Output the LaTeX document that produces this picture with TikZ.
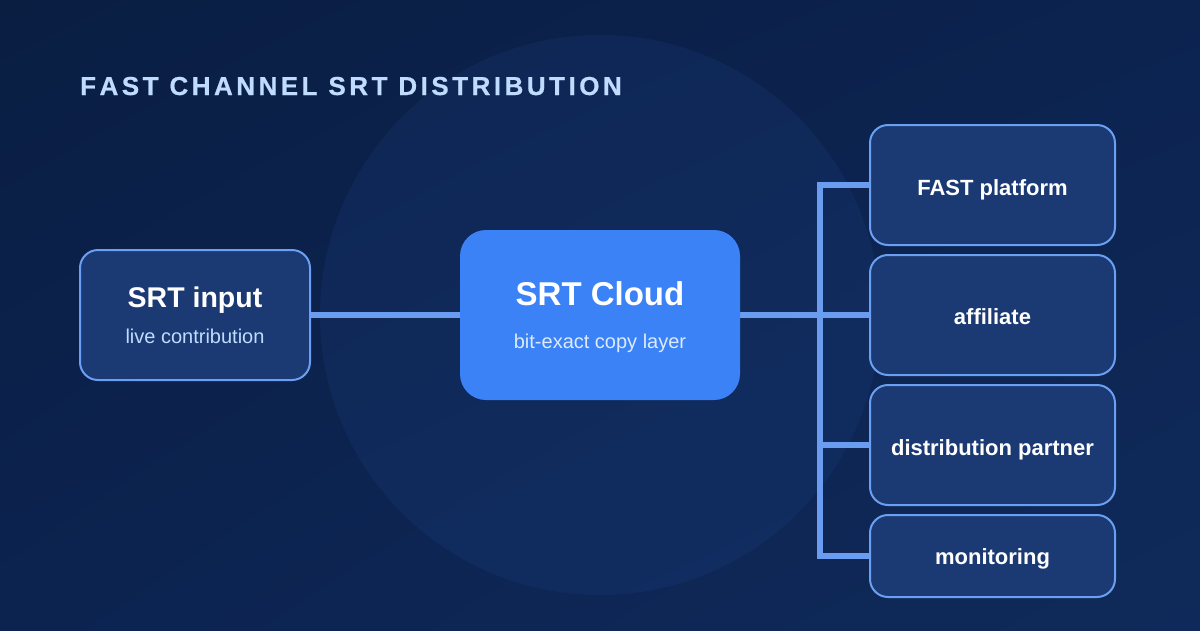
\documentclass[tikz,border=0pt]{standalone}
\usepackage{fontspec}
\usetikzlibrary{shadings}
\setmainfont{Liberation Sans}
\definecolor{bgA}{HTML}{0A1E42}
\definecolor{bgB}{HTML}{0C2350}
\definecolor{bgC}{HTML}{0F2A5A}
\definecolor{boxfill}{HTML}{1B3A74}
\definecolor{boxline}{HTML}{6A9FF2}
\definecolor{wire}{HTML}{6A9CF0}
\definecolor{cloudfill}{HTML}{3B82F6}
\definecolor{titlecol}{HTML}{BFDBFE}
\definecolor{subcol}{HTML}{BFDBFE}
\definecolor{cloudsub}{HTML}{DBEAFE}
\def\spacedword#1{\spacedstep#1\relax}
\def\spacedstep#1{\ifx\relax#1\else#1\kern3.5pt\expandafter\spacedstep\fi}
\def\wgap{\hspace{7.4pt}}
\pgfdeclarelayer{bglayer}
\pgfdeclarelayer{wirelayer}
\pgfsetlayers{bglayer,wirelayer,main}
\tikzset{
  darkbox/.style={draw=boxline, line width=2pt, fill=boxfill, rounded corners=18pt,
    minimum width=230pt, minimum height=130pt, inner sep=0pt, outer sep=0pt},
  outbox/.style={darkbox, minimum width=245pt, minimum height=120pt},
  cloudbox/.style={fill=cloudfill, rounded corners=26pt, minimum width=280pt,
    minimum height=170pt, inner sep=0pt, outer sep=0pt},
  wireline/.style={draw=wire, line width=6pt, line cap=butt, line join=miter},
  lbl/.style={anchor=base, text=white, font=\bfseries\fontsize{22}{26}\selectfont, inner sep=0pt},
  sublbl/.style={anchor=base, font=\fontsize{20}{24}\selectfont, inner sep=0pt},
}
\begin{document}
\begin{tikzpicture}[x=1pt, y=-1pt]
\begin{pgfonlayer}{bglayer}
  \shade[upper left=bgA, upper right=bgB, lower left=bgB, lower right=bgC] (0,0) rectangle (1200,630);
  \fill[fill=cloudfill, fill opacity=0.07] (600,315) circle (280);
\end{pgfonlayer}
\useasboundingbox (0,0) rectangle (1200,630);

\node[anchor=base west, inner sep=0pt, text=titlecol, font=\bfseries\fontsize{26}{30}\selectfont\addfontfeature{FakeBold=0.6}] (title) at (80,95)
  {\spacedword{FAST}\wgap\spacedword{CHANNEL}\wgap\spacedword{SRT}\wgap\spacedword{DISTRIBUTION}};

\node[darkbox] (in) at (195,315) {};
\node[lbl, font=\bfseries\fontsize{28.5}{32}\selectfont] (inT) at (195,307) {SRT input};
\node[sublbl, text=subcol] (inS) at (195,343) {live contribution};

\node[cloudbox] (cloud) at (600,315) {};
\node[lbl, font=\bfseries\fontsize{33}{38}\selectfont] (cloudT) at (600,305) {SRT Cloud};
\node[sublbl, text=cloudsub] (cloudS) at (600,348) {bit-exact copy layer};

\node[outbox] (fast) at (992.5,185) {};
\node[lbl] (fastT) at (992.5,195) {FAST platform};
\node[outbox] (aff) at (992.5,315) {};
\node[lbl] (affT) at (992.5,324) {affiliate};
\node[outbox] (dist) at (992.5,445) {};
\node[lbl] (distT) at (992.5,455) {distribution partner};
\node[outbox, minimum height=82pt] (mon) at (992.5,556) {};
\node[lbl] (monT) at (992.5,564) {monitoring};

\coordinate (bus) at (820,315);
\begin{pgfonlayer}{wirelayer}
  \draw[wireline] (in.east) -- (cloud.west);
  \draw[wireline] (cloud.east) -- (bus);
  \draw[wireline] (fast.west) -| (bus);
  \draw[wireline] (mon.west) -| (bus);
  \draw[wireline] (bus) -- (aff.west);
  \draw[wireline] (dist.west) -- (dist.west -| bus);
\end{pgfonlayer}
\end{tikzpicture}
\end{document}
